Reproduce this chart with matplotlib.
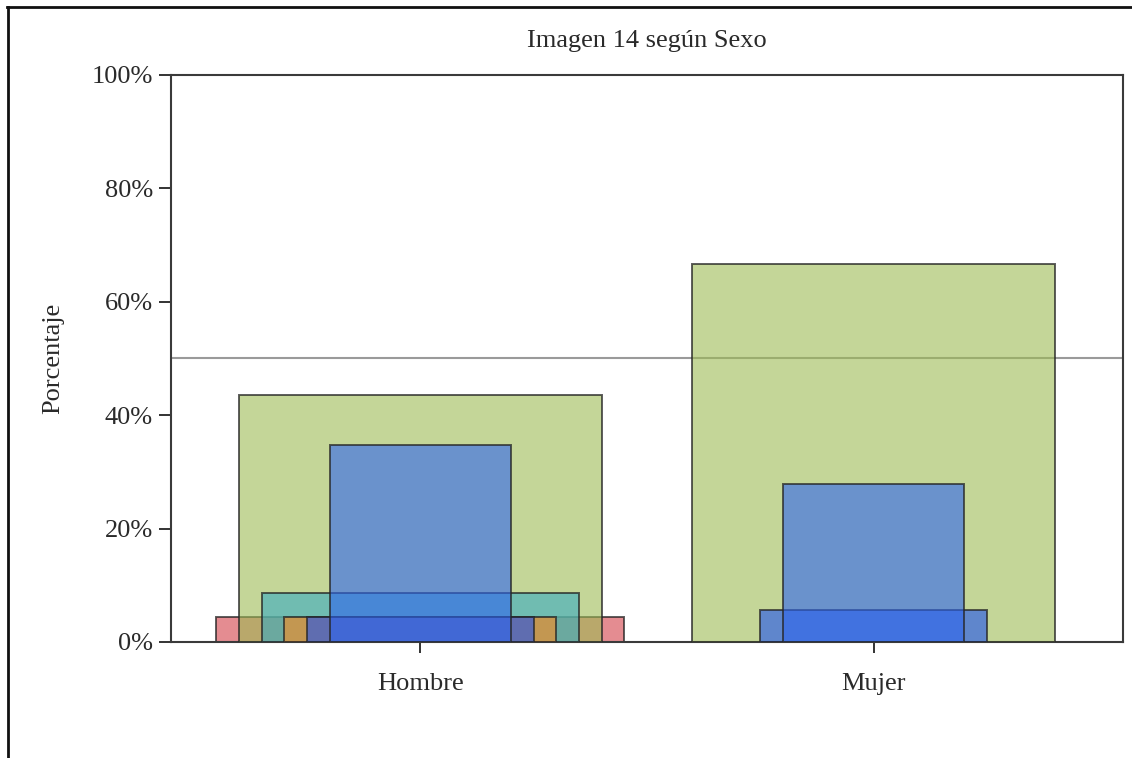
import matplotlib
matplotlib.use("Agg")
import matplotlib.pyplot as plt
from matplotlib.lines import Line2D
from matplotlib.ticker import FuncFormatter

# Categories and percentage of each response level within each sex
sexos = ["Hombre", "Mujer"]
niveles = ["1", "2", "3", "4", "5", "6"]
hombre = [4.35, 43.48, 8.70, 4.35, 4.35, 34.78]
mujer = [0.0, 66.67, 0.0, 0.0, 5.56, 27.78]
anchos = [0.9, 0.8, 0.7, 0.6, 0.5, 0.4]
colores = ["#d23f48", "#9dbb53", "#38abc3", "#ff8c1e", "#1c52f0", "#2e65ef"]
referencia = 50
yticks = [0, 20, 40, 60, 80, 100]

plt.rcParams["font.family"] = ["Liberation Serif", "DejaVu Serif"]
FS = 19

fig = plt.figure(figsize=(11.32, 7.58), dpi=100)
ax = fig.add_axes([171 / 1132, 116 / 758, (1123 - 171) / 1132, (642 - 75) / 758])

x = list(range(len(sexos)))
for i, nivel in enumerate(niveles):
    vals = [hombre[i], mujer[i]]
    for xi, v in zip(x, vals):
        if v <= 0:
            continue
        ax.bar(xi, v, width=anchos[i], color=colores[i], alpha=0.6,
               edgecolor="none", zorder=2 + i)
        ax.bar(xi, v, width=anchos[i], facecolor="none",
               edgecolor=(0.15, 0.15, 0.15, 0.75), linewidth=1.4, zorder=2 + i)

ax.axhline(referencia, color="#9a9a9a", linewidth=1.5, zorder=1)

ax.set_xlim(-0.55, 1.55)
ax.set_ylim(0, 100)
ax.set_xticks(x)
ax.set_xticklabels(sexos, fontsize=FS, color="#2a2a2a")
ax.set_yticks(yticks)
ax.yaxis.set_major_formatter(FuncFormatter(lambda v, p: f"{v:.0f}%"))
ax.tick_params(axis="y", labelsize=FS, length=9, width=1.4, color="#333333",
               labelcolor="#2a2a2a", pad=4)
ax.tick_params(axis="x", length=8, width=1.4, color="#333333", pad=14)
for s in ax.spines.values():
    s.set_color("#3a3a3a")
    s.set_linewidth(1.5)

ax.set_ylabel("Porcentaje", fontsize=FS, color="#2a2a2a", labelpad=20)
ax.set_title("Imagen 14 según Sexo", fontsize=FS, color="#2a2a2a", pad=20)

# Outer frame lines (top and left)
fig.add_artist(Line2D([7 / 1132, 1.0], [1 - 7 / 758, 1 - 7 / 758],
                      transform=fig.transFigure, color="#111111", linewidth=2))
fig.add_artist(Line2D([8 / 1132, 8 / 1132], [0.0, 1 - 7 / 758],
                      transform=fig.transFigure, color="#111111", linewidth=2))

fig.savefig("out.png", dpi=100)
